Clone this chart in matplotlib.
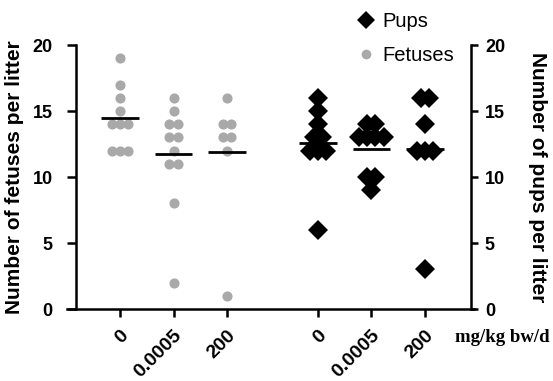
import numpy as np
import matplotlib
matplotlib.use("Agg")
import matplotlib.pyplot as plt
from matplotlib.lines import Line2D

plt.rcParams['font.family'] = ['Liberation Sans', 'DejaVu Sans']

# ---- data ----
dose_labels = ['0', '0.0005', '200']
fetus_0 = [19, 17, 16, 15, 14, 14, 14, 12, 12, 12]
fetus_00005 = [16, 15, 14, 14, 13, 13, 12, 11, 11, 8, 2]
fetus_200 = [16, 14, 14, 13, 13, 12, 1]
pups_0 = [16, 15, 14, 13, 13, 12, 12, 12, 6]
pups_00005 = [14, 14, 13, 13, 13, 13, 10, 10, 9]
pups_200 = [16, 16, 14, 12, 12, 12, 3]

fetus_groups = [fetus_0, fetus_00005, fetus_200]
pup_groups = [pups_0, pups_00005, pups_200]
fetus_pos = [0, 1, 2]
pup_pos = [3.7, 4.7, 5.7]

GRAY = '#a9a9a9'


def swarm_offsets(vals, step):
    vals = np.asarray(vals, dtype=float)
    offs = np.zeros(len(vals))
    for v in np.unique(vals):
        idx = np.where(vals == v)[0]
        n = len(idx)
        offs[idx] = (np.arange(n) - (n - 1) / 2.0) * step
    return offs


W, H = 553, 381
fig = plt.figure(figsize=(W / 100, H / 100), dpi=100)
ax = fig.add_axes([66.5 / W, 72 / H, 407.7 / W, 264 / H])
ax2 = ax.twinx()

for pos, vals in zip(fetus_pos, fetus_groups):
    x = pos + swarm_offsets(vals, 0.155)
    ax.plot(x, vals, 'o', color=GRAY, ms=7.3, mew=0, clip_on=False, zorder=3)
    ax.hlines(np.mean(vals), pos - 0.35, pos + 0.35, color='black', lw=2.0, zorder=4)

for pos, vals in zip(pup_pos, pup_groups):
    x = pos + swarm_offsets(vals, 0.15)
    ax2.plot(x, vals, 'D', color='black', ms=10.5, mew=0, clip_on=False, zorder=3)
    ax2.hlines(np.mean(vals), pos - 0.35, pos + 0.35, color='black', lw=2.0, zorder=4)

ax.set_xlim(-1.0, 6.62)
ax.set_ylim(0, 20)
ax2.set_ylim(0, 20)

for a in (ax, ax2):
    a.spines['top'].set_visible(False)
ax.spines['right'].set_visible(False)
ax2.spines['left'].set_visible(False)
ax2.spines['bottom'].set_visible(False)
ax.spines['left'].set_position(('data', -0.82))
ax2.spines['right'].set_position(('data', 6.56))
for s in ('left', 'bottom'):
    ax.spines[s].set_linewidth(1.8)
ax2.spines['right'].set_linewidth(1.8)

ax.set_yticks([0, 5, 10, 15, 20])
ax2.set_yticks([0, 5, 10, 15, 20])
ax.set_xticks(fetus_pos + pup_pos)
ax.set_xticklabels(dose_labels + dose_labels, rotation=45, ha='right', va='top',
                   rotation_mode='anchor', fontsize=14, fontweight='bold')
ax.tick_params(axis='y', length=6.5, width=1.8, pad=10.5, labelsize=13)
ax.tick_params(axis='x', length=5.8, width=1.8, pad=7)
ax2.tick_params(axis='y', length=5, width=1.8, pad=5, labelsize=13)
for lab in ax.get_yticklabels() + ax2.get_yticklabels():
    lab.set_fontweight('bold')

ax.set_ylabel('Number of fetuses per litter', fontsize=15, fontweight='bold',
              va='center')
ax.yaxis.set_label_coords((15 - 66.5) / 407.7, 0.5)
ax2.set_ylabel('Number of pups per litter', fontsize=15, fontweight='bold',
               rotation=270, va='center')
ax2.yaxis.set_label_coords((537 - 66.5) / 407.7, 0.5)

fig.text(455 / W, 1 - 337 / H, 'mg/kg bw/d', fontsize=13.5, fontweight='bold',
         family='Liberation Serif', ha='left', va='center')

handles = [Line2D([], [], marker='D', color='black', ls='none', ms=9.5, mew=0),
           Line2D([], [], marker='o', color=GRAY, ls='none', ms=7, mew=0)]
fig.legend(handles, ['Pups', 'Fetuses'], loc='upper left',
           bbox_to_anchor=(356 / W, 1 - 12 / H), frameon=False, fontsize=14.5,
           handlelength=1.0, handletextpad=0.3, labelspacing=0.75,
           borderpad=0, borderaxespad=0)

fig.savefig('out.png', dpi=100)
